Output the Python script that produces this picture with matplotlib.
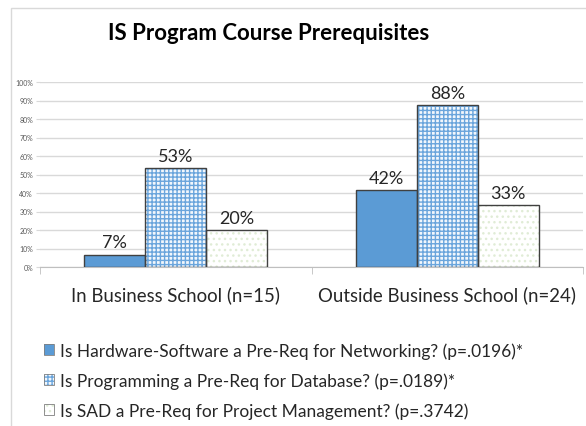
import matplotlib.pyplot as plt
import numpy as np
from matplotlib.patches import Patch, Rectangle
from matplotlib.legend_handler import HandlerTuple
from matplotlib.ticker import PercentFormatter

plt.rcParams['font.family'] = ['Lato', 'DejaVu Sans']
plt.rcParams['hatch.linewidth'] = 1.0

categories = ['In Business School (n=15)', 'Outside Business School (n=24)']
series = ['Is Hardware-Software a Pre-Req for Networking? (p=.0196)*',
          'Is Programming a Pre-Req for Database? (p=.0189)*',
          'Is SAD a Pre-Req for Project Management? (p=.3742)']
hw_net = [0.067, 0.417]
prog_db = [0.533, 0.875]
sad_pm = [0.20, 0.333]
yticks = np.arange(0, 1.01, 0.1)

# fill, hatch, hatch colour for each series
styles = [('#5B9BD5', None, '#5B9BD5'),
          ('#F2F7FC', '++++', '#6AA5DC'),
          ('white', '...', '#E0ECD6')]
outline = '#404040'

fig = plt.figure(figsize=(5.86, 4.27), dpi=100)
ax = fig.add_axes([40/586, 1-268/427, 543/586, 185/427])

x = np.arange(len(categories))
w = 0.225
handles = []
for i, vals in enumerate([hw_net, prog_db, sad_pm]):
    fc, hatch, hc = styles[i]
    pos = x + (i - 1) * w
    ax.bar(pos, vals, w, color=fc, hatch=hatch, edgecolor=hc, linewidth=0, zorder=2)
    bars = ax.bar(pos, vals, w, fill=False, edgecolor=outline, linewidth=1, zorder=3)
    for b, v in zip(bars, vals):
        ax.annotate(f'{v*100:.0f}%', (b.get_x() + b.get_width()/2, v),
                    xytext=(0, 3), textcoords='offset points',
                    ha='center', va='bottom', fontsize=13, color='#262626')
    handles.append((Patch(facecolor=fc, hatch=hatch, edgecolor=hc, linewidth=0),
                    Patch(fill=False, edgecolor='#7F7F7F', linewidth=0.6)))

ax.set_xlim(-0.5, 1.5)
ax.set_ylim(0, 1)
ax.set_yticks(yticks)
ax.yaxis.set_major_formatter(PercentFormatter(1.0, decimals=0))
ax.tick_params(axis='y', labelsize=5, labelcolor='#595959', length=3, color='#D9D9D9', pad=2)
ax.grid(axis='y', color='#D9D9D9', linewidth=1, zorder=0)
ax.set_axisbelow(True)

ax.set_xticks(x)
ax.set_xticklabels(categories, fontsize=13.4, color='#262626')
ax.set_xticks([-0.5, 0.5, 1.5], minor=True)
ax.tick_params(axis='x', which='major', length=0, pad=13)
ax.tick_params(axis='x', which='minor', length=5, color='#BFBFBF')

for s in ['top', 'right', 'left']:
    ax.spines[s].set_visible(False)
ax.spines['bottom'].set_color('#BFBFBF')

fig.text(269/586, 1-33/427, 'IS Program Course Prerequisites', ha='center', va='center',
         fontsize=16, fontweight='bold', color='black')

fig.legend(handles, series, handler_map={tuple: HandlerTuple(ndivide=1)},
           loc='upper left', bbox_to_anchor=(44/586, 1-343/427), frameon=False,
           fontsize=12.5, handlelength=0.6, handleheight=0.6, handletextpad=0.3,
           labelspacing=0.78, borderaxespad=0, borderpad=0, labelcolor='#262626')

fig.patches.append(Rectangle((11/586, -0.02), 1, 1 - 9/427 + 0.02, transform=fig.transFigure,
                             fill=False, edgecolor='#D9D9D9', linewidth=1))

fig.savefig('out.png', dpi=100)
